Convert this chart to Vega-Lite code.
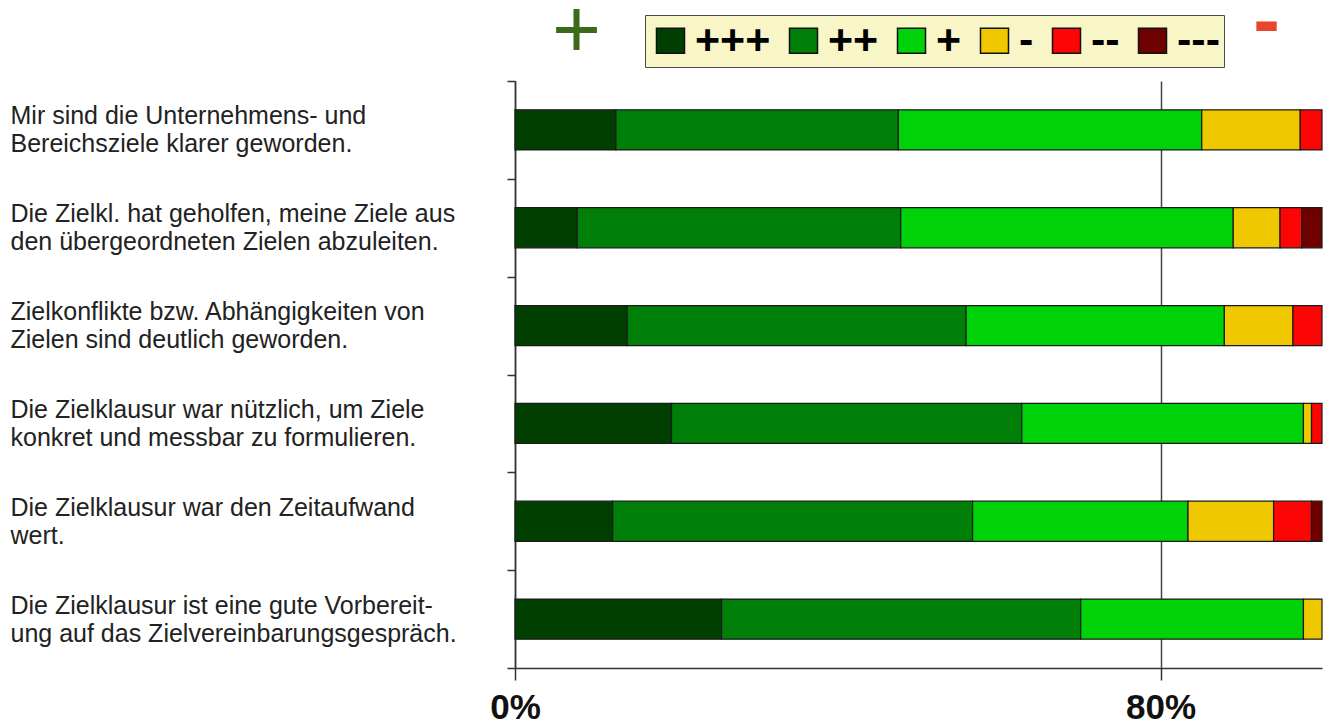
{
  "$schema": "https://vega.github.io/schema/vega-lite/v6.json",
  "autosize": {"type": "none"},
  "padding": {"left": 515, "top": 81, "right": 8, "bottom": 56},
  "width": 807,
  "height": 587,
  "background": "#ffffff",
  "config": {"view": {"stroke": null}, "font": "Liberation Sans"},
  "datasets": {
    "bars": [
      {"frage": "Mir sind die Unternehmens- und|Bereichsziele klarer geworden.", "stufe": "+++", "rang": 1, "anteil": 12.5},
      {"frage": "Mir sind die Unternehmens- und|Bereichsziele klarer geworden.", "stufe": "++", "rang": 2, "anteil": 35.0},
      {"frage": "Mir sind die Unternehmens- und|Bereichsziele klarer geworden.", "stufe": "+", "rang": 3, "anteil": 37.6},
      {"frage": "Mir sind die Unternehmens- und|Bereichsziele klarer geworden.", "stufe": "-", "rang": 4, "anteil": 12.2},
      {"frage": "Mir sind die Unternehmens- und|Bereichsziele klarer geworden.", "stufe": "--", "rang": 5, "anteil": 2.7},
      {"frage": "Die Zielkl. hat geholfen, meine Ziele aus|den übergeordneten Zielen abzuleiten.", "stufe": "+++", "rang": 1, "anteil": 7.7},
      {"frage": "Die Zielkl. hat geholfen, meine Ziele aus|den übergeordneten Zielen abzuleiten.", "stufe": "++", "rang": 2, "anteil": 40.1},
      {"frage": "Die Zielkl. hat geholfen, meine Ziele aus|den übergeordneten Zielen abzuleiten.", "stufe": "+", "rang": 3, "anteil": 41.2},
      {"frage": "Die Zielkl. hat geholfen, meine Ziele aus|den übergeordneten Zielen abzuleiten.", "stufe": "-", "rang": 4, "anteil": 5.8},
      {"frage": "Die Zielkl. hat geholfen, meine Ziele aus|den übergeordneten Zielen abzuleiten.", "stufe": "--", "rang": 5, "anteil": 2.7},
      {"frage": "Die Zielkl. hat geholfen, meine Ziele aus|den übergeordneten Zielen abzuleiten.", "stufe": "---", "rang": 6, "anteil": 2.5},
      {"frage": "Zielkonflikte bzw. Abhängigkeiten von|Zielen sind deutlich geworden.", "stufe": "+++", "rang": 1, "anteil": 13.9},
      {"frage": "Zielkonflikte bzw. Abhängigkeiten von|Zielen sind deutlich geworden.", "stufe": "++", "rang": 2, "anteil": 42.0},
      {"frage": "Zielkonflikte bzw. Abhängigkeiten von|Zielen sind deutlich geworden.", "stufe": "+", "rang": 3, "anteil": 32.0},
      {"frage": "Zielkonflikte bzw. Abhängigkeiten von|Zielen sind deutlich geworden.", "stufe": "-", "rang": 4, "anteil": 8.5},
      {"frage": "Zielkonflikte bzw. Abhängigkeiten von|Zielen sind deutlich geworden.", "stufe": "--", "rang": 5, "anteil": 3.6},
      {"frage": "Die Zielklausur war nützlich, um Ziele|konkret und messbar zu formulieren.", "stufe": "+++", "rang": 1, "anteil": 19.4},
      {"frage": "Die Zielklausur war nützlich, um Ziele|konkret und messbar zu formulieren.", "stufe": "++", "rang": 2, "anteil": 43.4},
      {"frage": "Die Zielklausur war nützlich, um Ziele|konkret und messbar zu formulieren.", "stufe": "+", "rang": 3, "anteil": 34.9},
      {"frage": "Die Zielklausur war nützlich, um Ziele|konkret und messbar zu formulieren.", "stufe": "-", "rang": 4, "anteil": 1.0},
      {"frage": "Die Zielklausur war nützlich, um Ziele|konkret und messbar zu formulieren.", "stufe": "--", "rang": 5, "anteil": 1.3},
      {"frage": "Die Zielklausur war den Zeitaufwand|wert.", "stufe": "+++", "rang": 1, "anteil": 12.1},
      {"frage": "Die Zielklausur war den Zeitaufwand|wert.", "stufe": "++", "rang": 2, "anteil": 44.6},
      {"frage": "Die Zielklausur war den Zeitaufwand|wert.", "stufe": "+", "rang": 3, "anteil": 26.7},
      {"frage": "Die Zielklausur war den Zeitaufwand|wert.", "stufe": "-", "rang": 4, "anteil": 10.6},
      {"frage": "Die Zielklausur war den Zeitaufwand|wert.", "stufe": "--", "rang": 5, "anteil": 4.7},
      {"frage": "Die Zielklausur war den Zeitaufwand|wert.", "stufe": "---", "rang": 6, "anteil": 1.3},
      {"frage": "Die Zielklausur ist eine gute Vorbereit-|ung auf das Zielvereinbarungsgespräch.", "stufe": "+++", "rang": 1, "anteil": 25.6},
      {"frage": "Die Zielklausur ist eine gute Vorbereit-|ung auf das Zielvereinbarungsgespräch.", "stufe": "++", "rang": 2, "anteil": 44.5},
      {"frage": "Die Zielklausur ist eine gute Vorbereit-|ung auf das Zielvereinbarungsgespräch.", "stufe": "+", "rang": 3, "anteil": 27.6},
      {"frage": "Die Zielklausur ist eine gute Vorbereit-|ung auf das Zielvereinbarungsgespräch.", "stufe": "-", "rang": 4, "anteil": 2.3}
    ],
    "zeichen": [
      {"zeichen": "+", "pos": 7.56},
      {"zeichen": "-", "pos": 93.06}
    ]
  },
  "layer": [
    {
      "data": {"name": "bars"},
      "mark": {"type": "bar", "stroke": "#1a1a1a", "strokeWidth": 1.2, "height": {"band": 0.41}},
      "encoding": {
        "y": {
          "field": "frage",
          "type": "nominal",
          "sort": null,
          "scale": {"paddingInner": 0, "paddingOuter": 0},
          "axis": {
            "title": null,
            "labelExpr": "split(datum.label, '|')",
            "labelAlign": "left",
            "labelBaseline": "middle",
            "labelPadding": 497,
            "labelOffset": -14,
            "labelLimit": 0,
            "labelFont": "Liberation Sans",
            "labelFontSize": 25,
            "labelLineHeight": 28,
            "labelColor": "#222222",
            "tickBand": "extent",
            "tickSize": 8,
            "tickColor": "#333333",
            "tickWidth": 1.5,
            "domainColor": "#333333",
            "domainWidth": 1.5,
            "grid": false
          }
        },
        "x": {
          "field": "anteil",
          "type": "quantitative",
          "stack": "zero",
          "scale": {"domain": [0, 100], "nice": false},
          "axis": {
            "orient": "bottom",
            "title": null,
            "values": [0, 80],
            "labelExpr": "datum.value + '%'",
            "labelFont": "Liberation Sans",
            "labelFontSize": 35,
            "labelFontWeight": "bold",
            "labelColor": "#111111",
            "labelPadding": 10,
            "labelFlush": false,
            "tickSize": 12,
            "tickColor": "#333333",
            "tickWidth": 1.5,
            "domainColor": "#333333",
            "domainWidth": 1.5,
            "grid": true,
            "gridColor": "#444444",
            "gridWidth": 1.5
          }
        },
        "order": {"field": "rang", "type": "quantitative"},
        "color": {
          "field": "stufe",
          "type": "nominal",
          "scale": {
            "domain": ["+++", "++", "+", "-", "--", "---"],
            "range": ["#003f00", "#007f08", "#00d20a", "#f0c800", "#fb0505", "#6e0000"]
          },
          "legend": {
            "title": null,
            "orient": "none",
            "direction": "horizontal",
            "legendX": 130,
            "legendY": -66,
            "fillColor": "#f8f6c6",
            "strokeColor": "#4a4a4a",
            "padding": 4,
            "symbolType": "M-1,-0.89H1V0.89H-1Z",
            "symbolSize": 784,
            "symbolStrokeColor": "#111111",
            "symbolStrokeWidth": 1.5,
            "symbolOpacity": 1,
            "labelFont": "Liberation Sans",
            "labelFontSize": 43,
            "labelFontWeight": "bold",
            "labelColor": "#000000",
            "labelOffset": 3,
            "columnPadding": 11
          }
        }
      }
    },
    {
      "data": {"name": "zeichen"},
      "mark": {"type": "rule", "strokeOpacity": 0},
      "encoding": {
        "x": {
          "field": "pos",
          "type": "quantitative",
          "scale": {"domain": [0, 100], "nice": false},
          "axis": {
            "orient": "top",
            "title": null,
            "values": [7.56, 93.06],
            "labelExpr": "datum.value < 50 ? '+' : '-'",
            "domain": false,
            "ticks": false,
            "tickSize": 0,
            "grid": false,
            "labelFont": "Liberation Sans",
            "labelBaseline": "alphabetic",
            "labelAlign": "center",
            "labelFlush": false,
            "labelFontSize": {"condition": {"test": "datum.value < 50", "value": 84}, "value": 80},
            "labelFontWeight": {"condition": {"test": "datum.value < 50", "value": "normal"}, "value": "bold"},
            "labelColor": {"condition": {"test": "datum.value < 50", "value": "#3b6a1a"}, "value": "#e8462a"},
            "labelPadding": {"condition": {"test": "datum.value < 50", "value": 25}, "value": 35}
          }
        }
      }
    }
  ],
  "resolve": {"axis": {"x": "independent"}}
}
